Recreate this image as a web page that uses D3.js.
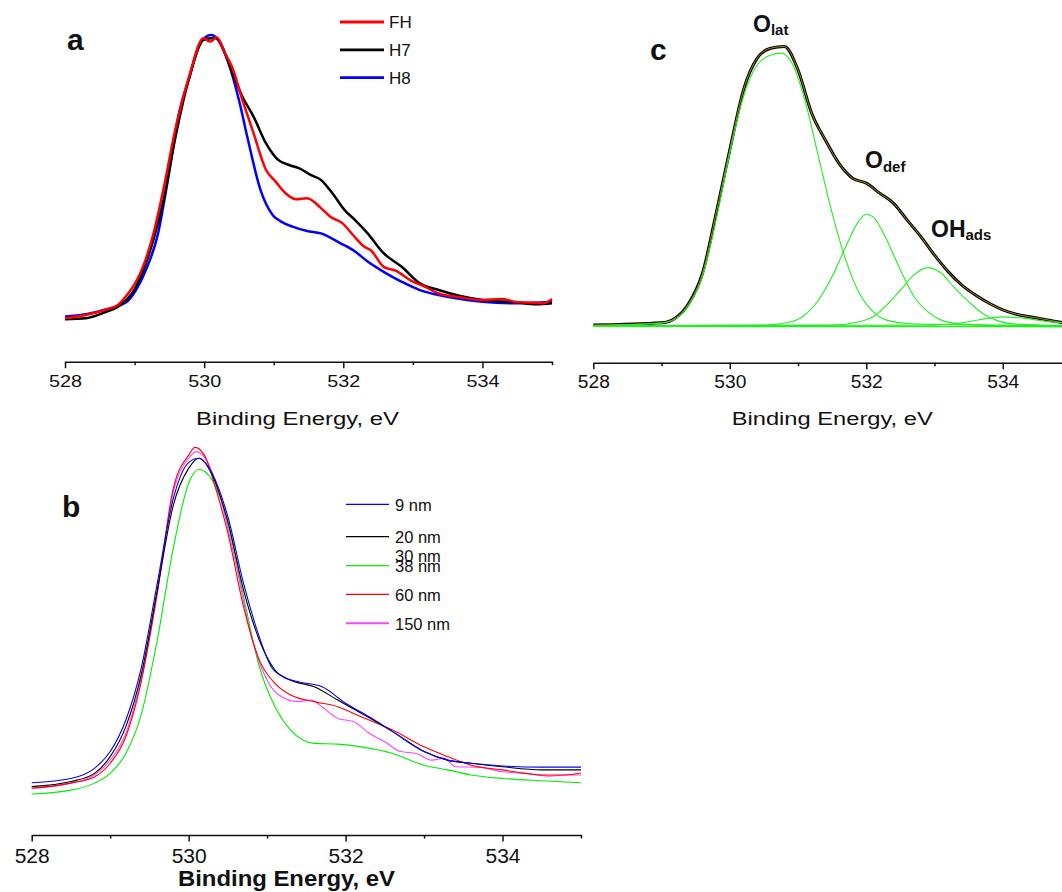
<!DOCTYPE html>
<html>
<head>
<meta charset="utf-8">
<script src="https://cdn.jsdelivr.net/npm/d3@7"></script>
<style>
body{margin:0;background:#fff;}
svg{display:block;font-family:"Liberation Sans",Arial,sans-serif;}
</style>
</head>
<body>
<svg id="chart" width="1062" height="892"></svg>
<script>
// binding energy ticks (eV), shared by all three panels
var ticksE = [528,529,530,531,532,533,534,535];

// panel a : intensity (a.u.) vs binding energy
var fhA = [[528,13.1],[528.3,14.1],[528.6,15.8],[528.76,17.1],[528.89,20.1],[529.02,24.1],[529.12,28.6],[529.27,38.5],[529.43,53.5],[529.58,69.5],[529.79,86.4],[529.99,97.5],[530.09,96.5],[530.18,97.8],[530.3,93],[530.4,88.9],[530.55,78.9],[530.71,68.9],[530.89,57.8],[531.02,54.5],[531.17,50.8],[531.32,49],[531.48,49.3],[531.68,46.3],[531.81,43.8],[531.99,41.7],[532.14,38.2],[532.3,34.7],[532.4,33.5],[532.58,28.6],[532.76,27.4],[532.96,24.6],[533.17,22.6],[533.37,20.6],[533.68,19.4],[533.99,18.6],[534.29,18.9],[534.5,17.9],[534.75,17.8],[534.88,17.6],[535,18.9]];
var h7A = [[528,12.8],[528.3,13.1],[528.6,15.1],[528.76,16.6],[529.02,22.6],[529.27,36.7],[529.43,50],[529.58,66.9],[529.79,85.9],[529.99,97],[530.1,97.5],[530.18,97.5],[530.3,93],[530.4,87.4],[530.55,79.9],[530.71,73.9],[530.89,65.8],[531.06,60.9],[531.22,59.3],[531.37,58.3],[531.53,56.3],[531.68,54.8],[531.86,50.3],[532.02,45.7],[532.17,42.7],[532.35,38.7],[532.58,32.7],[532.84,28.6],[533.1,23.6],[533.37,21.6],[533.68,19.8],[534,18.6],[534.5,17.9],[534.77,17.3],[535,17.6]];
var h8A = [[528,13.6],[528.3,14.3],[528.6,15.8],[528.89,18.1],[529.02,21.6],[529.17,28],[529.33,38],[529.48,55],[529.63,73.9],[529.79,85.9],[529.94,95.9],[530.1,98.5],[530.2,97],[530.35,90],[530.5,78.9],[530.63,66.9],[530.81,51.8],[530.99,44.1],[531.12,42.1],[531.27,40.7],[531.48,39.4],[531.68,38.7],[531.96,35.7],[532.17,33.2],[532.35,30.2],[532.58,27.1],[532.84,24.1],[533.1,21.6],[533.37,20.1],[533.68,18.9],[534,18.1],[534.5,17.6],[535,18.1]];
var namesA = ["FH","H7","H8"];
var colorsA = ["#ff0000","#000000","#0000ff"];

// panel b : intensity (a.u.) for the different particle sizes
var nm9B = [[528,13.4],[528.5,14.5],[528.8,17.1],[529,21.4],[529.2,29.5],[529.4,43.2],[529.6,64.5],[529.8,85.9],[530,95.5],[530.13,96.6],[530.3,92.7],[530.5,81.6],[530.7,64.5],[530.9,50.8],[531.05,43.2],[531.2,40.6],[531.4,39.3],[531.7,38],[532,33.8],[532.3,30.3],[532.6,26.5],[533,21.4],[533.3,19.2],[533.6,18.4],[534,17.7],[534.5,17.4],[535,17.4]];
var nm20B = [[528,12.4],[528.5,13.7],[528.8,15.8],[529,20.1],[529.2,27.8],[529.4,41.5],[529.6,62.8],[529.8,84.2],[530,94],[530.13,96.6],[530.3,92.3],[530.5,80.3],[530.7,62.8],[530.9,50],[531.1,42.3],[531.3,39.7],[531.6,38],[531.9,34.6],[532.2,31.2],[532.6,26.5],[533,21.4],[533.3,19.2],[533.6,18.4],[534,17.5],[534.5,16.7],[535,16.7]];
var nm38B = [[528,10.5],[528.5,11.5],[528.8,13.3],[529,15.8],[529.2,20.9],[529.4,31.2],[529.6,50],[529.8,73.1],[530,90.2],[530.13,93.8],[530.3,91],[530.5,79.9],[530.7,61.1],[530.9,43.2],[531.1,32.9],[531.3,26.9],[531.6,23.5],[531.9,23.3],[532.2,22.6],[532.6,20.9],[533,17.9],[533.3,16.7],[533.6,15.4],[534,14.5],[534.5,13.9],[535,13.4]];
var nm60B = [[528,12],[528.5,13.3],[528.8,14.9],[529,18.4],[529.2,25.2],[529.4,39.7],[529.6,62],[529.8,88.5],[530,97.4],[530.08,99.4],[530.2,97.4],[530.35,88.5],[530.5,77.4],[530.7,58.5],[530.9,44.9],[531.1,38.9],[531.3,35.9],[531.6,34.2],[531.9,32.9],[532.2,30.3],[532.6,26.9],[533,22.6],[533.3,20.1],[533.6,17.9],[534,16.7],[534.5,15.4],[534.8,15.4],[535,15.9]];
var nm150B = [[528,12],[528.5,13.3],[528.8,15.4],[529,19.2],[529.2,26.1],[529.4,40.6],[529.6,62],[529.8,87.6],[530,96.6],[530.1,98.3],[530.25,95.3],[530.4,86.7],[530.6,69.7],[530.8,50.8],[531,39.7],[531.15,35.9],[531.4,34.2],[531.55,34.6],[531.7,32.9],[531.9,29.9],[532.1,29.1],[532.3,26.1],[532.5,23.9],[532.7,21.4],[532.9,20.9],[533.1,19.2],[533.25,19.7],[533.4,17.5],[533.7,17.4],[534,16.2],[534.3,15.8],[534.6,15.1],[534.8,15.4],[535,15.4]];
var namesB = ["9 nm","20 nm","38 nm","60 nm","150 nm"];
var colorsB = ["#0000ff","#000000","#00ee00","#ff0000","#ff44ff"];

// panel c : fitted spectrum and its components
var envC = [[528,11.4],[529,12.1],[529.2,13.5],[529.4,18],[529.6,27.1],[529.8,45.3],[530,64.5],[530.2,82.6],[530.4,92.2],[530.6,95.3],[530.8,95.8],[531,88.7],[531.2,75.6],[531.4,67.5],[531.6,60.4],[531.8,55.9],[532,54.4],[532.2,51.3],[532.4,48.3],[532.6,43.2],[532.8,38.2],[533,32.6],[533.2,27.6],[533.4,23.5],[533.6,20.5],[533.8,18],[534,16],[534.2,14.7],[534.4,13.9],[534.6,13.2],[534.8,12.4],[535,11.9]];
var latC = [[528,11.2],[529,12],[529.2,13.2],[529.4,17.5],[529.6,26.1],[529.8,43.2],[530,63.5],[530.2,80.6],[530.4,90.2],[530.6,93.2],[530.75,93.8],[530.9,91.2],[531.1,79.6],[531.3,62.4],[531.5,45.3],[531.7,31.1],[531.9,21],[532.1,15.5],[532.3,12.9],[532.6,11.9],[533,11.6],[535,11.2]];
var defC = [[528,11.2],[530.5,11.4],[530.9,12.4],[531.1,14.5],[531.3,19],[531.5,26.1],[531.7,35.2],[531.9,43.2],[532,45],[532.1,44.2],[532.3,37.2],[532.5,28.1],[532.7,20],[532.9,15.5],[533.1,12.9],[533.4,11.7],[534,11.3],[535,11.2]];
var adsC = [[528,11.2],[531.5,11.4],[531.9,12.4],[532.1,13.9],[532.3,17.5],[532.5,22],[532.7,26.6],[532.9,28.8],[533.1,27.1],[533.3,22.5],[533.5,18.5],[533.7,15],[533.9,12.9],[534.2,11.7],[535,11.2]];
var h2oC = [[528,11.2],[533,11.4],[533.5,12.4],[533.8,13.5],[534,13.9],[534.3,13.5],[534.6,12.6],[535,11.9]];
var baseC = [[528,11.1],[535,11.0]];

var svg = d3.select("#chart");
var font = '"Liberation Sans",Arial,sans-serif';

function drawAxis(x, yPos, fontSize, labelTop, labelWidth) {
	var ax = svg.append("g")
		.attr("transform", "translate(0," + yPos + ")")
		.call(d3.axisBottom(x)
			.tickValues(ticksE)
			.tickSize(6)
			.tickSizeOuter(0)
			.tickFormat(function(d){ return d % 2 === 0 ? d : ""; }));
	ax.select(".domain").attr("stroke", "#111").attr("stroke-width", 1.5);
	ax.selectAll(".tick line")
		.attr("stroke", "#111")
		.attr("stroke-width", 1.5)
		.attr("y2", function(d){ return d % 2 === 0 ? 6.5 : 3.5; });
	ax.selectAll(".tick text")
		.attr("y", labelTop)
		.attr("dy", "0.71em")
		.attr("fill", "#111")
		.attr("font-size", fontSize)
		.attr("font-family", font)
		.filter(function(d){ return d % 2 === 0; })
		.attr("textLength", labelWidth)
		.attr("lengthAdjust", "spacingAndGlyphs");
	return ax;
}

function drawLine(pts, x, y, color, w) {
	var line = d3.line()
		.curve(d3.curveMonotoneX)
		.x(function(d){ return x(d[0]); })
		.y(function(d){ return y(d[1]); });
	svg.append("path")
		.datum(pts)
		.attr("d", line)
		.attr("fill", "none")
		.attr("stroke", color)
		.attr("stroke-width", w)
		.attr("stroke-linejoin", "round");
}

function label(txt, x, y, size, weight, width) {
	var t = svg.append("text")
		.attr("x", x).attr("y", y)
		.attr("font-size", size)
		.attr("font-weight", weight || "normal")
		.attr("fill", "#111")
		.text(txt);
	if (width) t.attr("textLength", width).attr("lengthAdjust", "spacingAndGlyphs");
	return t;
}

// ---------- panel a ----------
var xa = d3.scaleLinear().domain([528, 535]).range([65, 552]),
    ya = d3.scaleLinear().domain([0, 100]).range([361.7, 30]);

drawAxis(xa, 361.7, 17, 13.5, 33);
// FH drawn last, on top
[h8A, h7A, fhA].forEach(function(s, i){ drawLine(s, xa, ya, colorsA[2 - i], 2.5); });

namesA.forEach(function(n, i){
	var ly = 22 + i * 27.8;
	svg.append("line").attr("x1", 340).attr("x2", 384).attr("y1", ly).attr("y2", ly)
		.attr("stroke", colorsA[i]).attr("stroke-width", 2.8);
	label(n, 389, ly + 6, 17);
});
label("a", 67, 50, 30, "bold");
label("Binding Energy, eV", 196, 425, 18, "normal", 203);

// ---------- panel b ----------
var xb = d3.scaleLinear().domain([528, 535]).range([31.7, 581]),
    yb = d3.scaleLinear().domain([0, 100]).range([835, 445]);

drawAxis(xb, 835, 20, 14, 35);
var seriesB = [nm9B, nm20B, nm38B, nm60B, nm150B];
[2, 4, 3, 1, 0].forEach(function(i){ drawLine(seriesB[i], xb, yb, colorsB[i], 1.1); });

var legYB = [504.3, 536.7, 565.7, 594.3, 623.3];
namesB.forEach(function(n, i){
	svg.append("line").attr("x1", 346).attr("x2", 389).attr("y1", legYB[i]).attr("y2", legYB[i])
		.attr("stroke", colorsB[i]).attr("stroke-width", i === 4 ? 2 : 1.2);
	label(n, 395, legYB[i] + 6.5, 16.5);
});
// the original legend has a stray "30 nm" printed over "38 nm"
label("30 nm", 395, 561.7, 16.5);
label("b", 62, 517, 30, "bold");
label("Binding Energy, eV", 178, 886, 22, "bold", 217);

// ---------- panel c ----------
var xc = d3.scaleLinear().domain([528, 535]).range([593.3, 1071]),
    yc = d3.scaleLinear().domain([0, 100]).range([362.7, 32.7]);

drawAxis(xc, 362.7, 18, 12.5, 32);
drawLine(envC, xc, yc, "#000000", 3);
drawLine(envC, xc, yc, "#a08a1a", 1);
[latC, defC, adsC, h2oC].forEach(function(s){ drawLine(s, xc, yc, "#22ee22", 1.1); });
drawLine(baseC, xc, yc, "#22ee22", 2);

label("c", 650, 60, 30, "bold");
var t1 = label("O", 753, 31.7, 23, "bold");
t1.append("tspan").attr("dy", 3).attr("font-size", 15).text("lat");
var t2 = label("O", 865, 168.3, 23, "bold");
t2.append("tspan").attr("dy", 3.5).attr("font-size", 15).text("def");
var t3 = label("OH", 931, 236.7, 23, "bold");
t3.append("tspan").attr("dy", 3.5).attr("font-size", 15).text("ads");
label("Binding Energy, eV", 731.7, 425, 18, "normal", 201);
</script>
</body>
</html>
